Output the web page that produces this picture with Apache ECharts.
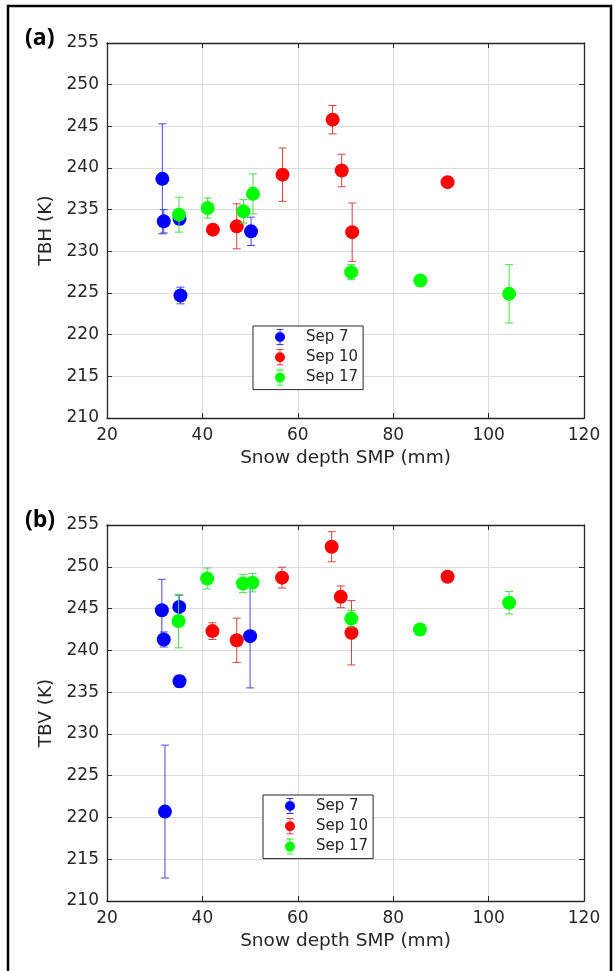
<!DOCTYPE html>
<html>
<head>
<meta charset="utf-8">
<script src="https://cdn.jsdelivr.net/npm/echarts@6/dist/echarts.min.js"></script>
<style>
html,body{margin:0;padding:0;background:#fff;}
#chart{width:614px;height:971px;}
</style>
</head>
<body>
<div id="chart"></div>
<script>
// ---------- data ----------
const seriesNames = ['Sep 7', 'Sep 10', 'Sep 17'];
const xTicks = [20, 40, 60, 80, 100, 120];
const yTicks = [210, 215, 220, 225, 230, 235, 240, 245, 250, 255];

// (a) TBH
const sep7X_H  = [31.6, 31.9, 35.2, 35.4, 50.2];
const sep7Y_H  = [238.7, 233.6, 233.9, 224.7, 232.4];
const sep7E_H  = [6.6, 1.4, 0.7, 1.0, 1.7];
const sep10X_H = [42.2, 47.2, 56.8, 67.3, 69.2, 71.4, 91.4];
const sep10Y_H = [232.6, 233.0, 239.2, 245.8, 239.7, 232.3, 238.3];
const sep10E_H = [0.5, 2.7, 3.2, 1.7, 1.95, 3.5, 0.3];
const sep17X_H = [35.1, 41.1, 48.6, 50.6, 71.2, 85.7, 104.3];
const sep17Y_H = [234.4, 235.2, 234.8, 236.9, 227.5, 226.5, 224.9];
const sep17E_H = [2.1, 1.2, 1.4, 2.4, 0.9, 0.5, 3.5];

// (b) TBV
const sep7X_V  = [31.5, 31.9, 35.15, 35.2, 50.0, 32.15];
const sep7Y_V  = [244.8, 241.3, 245.2, 236.3, 241.7, 220.7];
const sep7E_V  = [3.7, 0.9, 1.4, 0.7, 6.2, 7.95];
const sep10X_V = [42.1, 47.2, 56.7, 67.1, 69.0, 71.25, 91.4];
const sep10Y_V = [242.3, 241.2, 248.7, 252.4, 246.4, 242.1, 248.8];
const sep10E_V = [1.0, 2.65, 1.25, 1.8, 1.3, 3.85, 0.5];
const sep17X_V = [35.0, 41.0, 48.5, 50.5, 71.2, 85.6, 104.3];
const sep17Y_V = [243.5, 248.6, 248.0, 248.1, 243.8, 242.5, 245.7];
const sep17E_V = [3.2, 1.25, 1.1, 1.1, 1.0, 0.4, 1.35];

// ---------- styling ----------
const FONT = 'DejaVu Sans';
const TXT = '#262626';
const markerColors = ['#0000ff', '#ff0000', '#00ff00'];
const barColors = ['#4848d8', '#dc4040', '#48dc48'];

const panels = [
  { yName: 'TBH (K)', sets: [[sep7X_H, sep7Y_H, sep7E_H], [sep10X_H, sep10Y_H, sep10E_H], [sep17X_H, sep17Y_H, sep17E_H]] },
  { yName: 'TBV (K)', sets: [[sep7X_V, sep7Y_V, sep7E_V], [sep10X_V, sep10Y_V, sep10E_V], [sep17X_V, sep17Y_V, sep17E_V]] }
];

const grids = [
  { left: 107, top: 43, width: 477, height: 375, outerBoundsMode: 'none' },
  { left: 107, top: 525, width: 477, height: 376, outerBoundsMode: 'none' }
];

const axisLineStyle = { color: TXT, width: 1.3 };
const xAxes = [], yAxes = [];
panels.forEach((p, g) => {
  const common = { gridIndex: g, type: 'value', min: xTicks[0], max: xTicks[xTicks.length - 1], interval: xTicks[1] - xTicks[0] };
  xAxes.push(Object.assign({}, common, {
    position: 'bottom',
    name: 'Snow depth SMP (mm)', nameLocation: 'middle', nameGap: 31,
    nameTextStyle: { fontSize: 18.5, color: TXT, fontFamily: FONT },
    axisLine: { show: true, onZero: false, lineStyle: axisLineStyle },
    axisTick: { show: true, inside: true, length: 5, lineStyle: { color: TXT, width: 1 } },
    axisLabel: { show: true, fontSize: 17, color: TXT, fontFamily: FONT, margin: 9, showMinLabel: true, showMaxLabel: true },
    splitLine: { show: true, lineStyle: { color: '#dcdcdc', width: 1 } }
  }));
  xAxes.push(Object.assign({}, common, {
    position: 'top',
    axisLine: { show: true, onZero: false, lineStyle: axisLineStyle },
    axisTick: { show: true, inside: true, length: 5, lineStyle: { color: TXT, width: 1 } },
    axisLabel: { show: false }, splitLine: { show: false }
  }));
  const ycommon = { gridIndex: g, type: 'value', min: yTicks[0], max: yTicks[yTicks.length - 1], interval: yTicks[1] - yTicks[0] };
  yAxes.push(Object.assign({}, ycommon, {
    position: 'left',
    name: p.yName, nameLocation: 'middle', nameGap: 46,
    nameTextStyle: { fontSize: 18.5, color: TXT, fontFamily: FONT },
    axisLine: { show: true, onZero: false, lineStyle: axisLineStyle },
    axisTick: { show: true, inside: true, length: 5, lineStyle: { color: TXT, width: 1 } },
    axisLabel: { show: true, fontSize: 17, color: TXT, fontFamily: FONT, margin: 8, showMinLabel: true, showMaxLabel: true },
    splitLine: { show: true, lineStyle: { color: '#dcdcdc', width: 1 } }
  }));
  yAxes.push(Object.assign({}, ycommon, {
    position: 'right',
    axisLine: { show: true, onZero: false, lineStyle: axisLineStyle },
    axisTick: { show: true, inside: true, length: 5, lineStyle: { color: TXT, width: 1 } },
    axisLabel: { show: false }, splitLine: { show: false }
  }));
});

function errRender(color) {
  return function (params, api) {
    const x = api.value(0), lo = api.value(1), hi = api.value(2);
    const a = api.coord([x, lo]), b = api.coord([x, hi]);
    const cw = 4;
    const st = { stroke: color, lineWidth: 1, fill: null };
    return {
      type: 'group',
      children: [
        { type: 'line', shape: { x1: a[0], y1: a[1], x2: b[0], y2: b[1] }, style: st },
        { type: 'line', shape: { x1: a[0] - cw, y1: a[1], x2: a[0] + cw, y2: a[1] }, style: st },
        { type: 'line', shape: { x1: b[0] - cw, y1: b[1], x2: b[0] + cw, y2: b[1] }, style: st }
      ]
    };
  };
}

const series = [];
panels.forEach((p, g) => {
  p.sets.forEach((s, d) => {
    const [xs, ys, es] = s;
    series.push({
      name: seriesNames[d] + ' err',
      type: 'custom',
      xAxisIndex: g * 2, yAxisIndex: g * 2,
      renderItem: errRender(barColors[d]),
      encode: { x: 0, y: [1, 2] },
      data: xs.map((x, i) => [x, ys[i] - es[i], ys[i] + es[i]]),
      z: 2 + d * 2,
      silent: true
    });
    series.push({
      name: seriesNames[d],
      type: 'scatter',
      xAxisIndex: g * 2, yAxisIndex: g * 2,
      symbol: 'circle', symbolSize: 14,
      itemStyle: { color: markerColors[d], opacity: 1 },
      data: xs.map((x, i) => [x, ys[i]]),
      z: 3 + d * 2
    });
  });
});

const iconPath = 'path://M0,8A5,5,0,1,1,10,8A5,5,0,1,1,0,8Z' +
  'M4.6,0.4L5.4,0.4L5.4,15.6L4.6,15.6Z' +
  'M1.5,0L8.5,0L8.5,0.8L1.5,0.8Z' +
  'M1.5,15.2L8.5,15.2L8.5,16L1.5,16Z';

function makeLegend(left, top) {
  return {
    data: seriesNames.map(n => ({ name: n, icon: iconPath })),
    orient: 'vertical', left: left, top: top,
    itemWidth: 42, itemHeight: 16, itemGap: 4.3,
    padding: [3, 5, 4, 22],
    borderColor: TXT, borderWidth: 1, backgroundColor: '#fff',
    selectedMode: false,
    textStyle: { fontSize: 15, color: TXT, fontFamily: FONT }
  };
}

const option = {
  animation: false,
  backgroundColor: '#fff',
  grid: grids,
  xAxis: xAxes,
  yAxis: yAxes,
  legend: [makeLegend(253, 326), makeLegend(263, 795)],
  series: series,
  graphic: [
    { type: 'rect', shape: { x: 8, y: 6, width: 603, height: 990 }, style: { fill: null, stroke: '#000', lineWidth: 2.5 }, z: 100 },
    { type: 'text', left: 25, top: 27, style: { text: '(a)', font: 'bold 23px "Open Sans"', fill: '#000' }, z: 100 },
    { type: 'text', left: 25, top: 509, style: { text: '(b)', font: 'bold 23px "Open Sans"', fill: '#000' }, z: 100 }
  ]
};

const chart = echarts.init(document.getElementById('chart'), null, { renderer: 'canvas' });
chart.setOption(option);
</script>
</body>
</html>
